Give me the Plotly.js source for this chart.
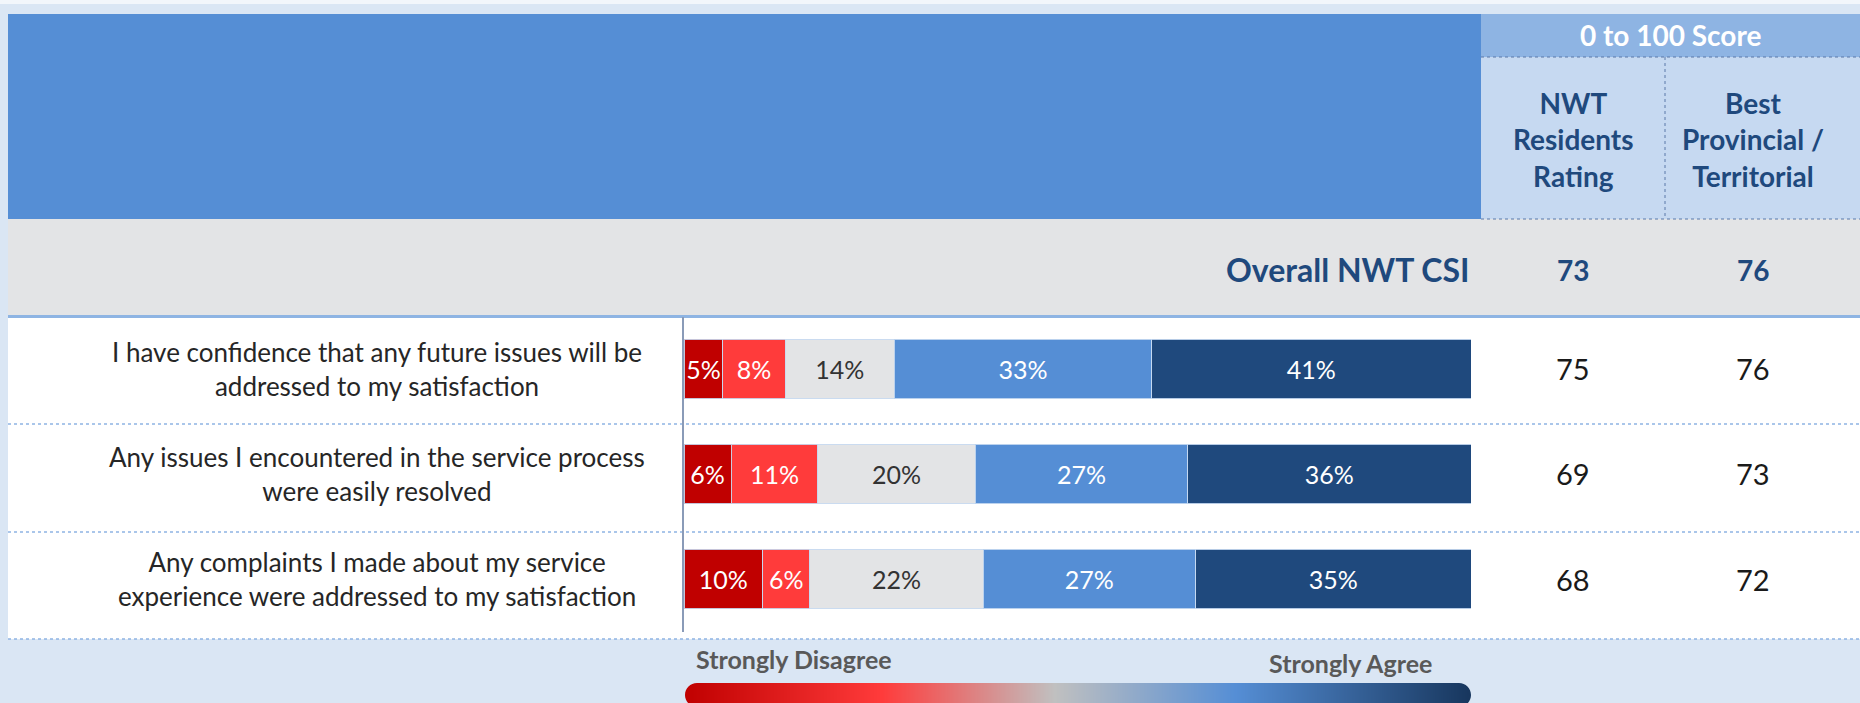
<!DOCTYPE html>
<html>
<head>
<meta charset="utf-8">
<script src="https://cdn.plot.ly/plotly-3.0.1.min.js"></script>
<style>
  html, body { margin: 0; padding: 0; background: #DAE6F4; }
  #chart { width: 1860px; height: 703px; }
</style>
</head>
<body>
<div id="chart"></div>
<script>
// ---------------- DATA ----------------
const categories = [
  "I have confidence that any future issues will be<br>addressed to my satisfaction",
  "Any issues I encountered in the service process<br>were easily resolved",
  "Any complaints I made about my service<br>experience were addressed to my satisfaction"
];
const seriesNames = ["Strongly Disagree", "Disagree", "Neutral", "Agree", "Strongly Agree"];
const stronglyDisagree = [5, 6, 10];
const disagree = [8, 11, 6];
const neutral = [14, 20, 22];
const agree = [33, 27, 27];
const stronglyAgree = [41, 36, 35];
const nwtRating = [75, 69, 68];
const bestProvincial = [76, 73, 72];
const overallLabel = "Overall NWT CSI";
const overallNwt = 73;
const overallBest = 76;
const scoreTitle = "0 to 100 Score";
const columnHeaders = ["NWT<br>Residents<br>Rating", "Best<br>Provincial /<br>Territorial"];
const legendLeft = "Strongly Disagree";
const legendRight = "Strongly Agree";

// ---------------- STYLE / GEOMETRY ----------------
const W = 1860, H = 703;
const FONT = "Lato, 'Open Sans', sans-serif";
const px = v => v / W;
const py = v => 1 - v / H;

const seriesValues = [stronglyDisagree, disagree, neutral, agree, stronglyAgree];
const seriesColors = ["#C00000", "#FF3B3B", "#E3E4E6", "#558ED5", "#1F497D"];
const textColors = ["#FFFFFF", "#FFFFFF", "#333333", "#FFFFFF", "#FFFFFF"];

const traces = seriesValues.map((vals, i) => ({
  type: "bar",
  orientation: "h",
  name: seriesNames[i],
  y: categories,
  x: vals,
  text: vals.map(v => v + "%"),
  textposition: "inside",
  insidetextanchor: "middle",
  textangle: 0,
  constraintext: "none",
  textfont: { family: FONT, size: 25, color: textColors[i] },
  marker: { color: seriesColors[i], line: { color: "rgba(198,217,241,0.9)", width: 1 } },
  hoverinfo: "skip",
  xaxis: "x",
  yaxis: "y"
}));

// gradient legend bar
traces.push({
  type: "heatmap",
  x: [0, 786],
  y: [-4, 20],
  z: [[0, 1], [0, 1]],
  zsmooth: "best",
  colorscale: [[0, "#C00000"], [0.25, "#FF3B3B"], [0.47, "#C0C0C0"], [0.70, "#558ED5"], [1, "#17365D"]],
  showscale: false,
  hoverinfo: "skip",
  xaxis: "x2",
  yaxis: "y2"
});

const rect = (x0, y0, x1, y1, color) => ({
  type: "rect", xref: "paper", yref: "paper", layer: "below",
  x0: px(x0), x1: px(x1), y0: py(y1), y1: py(y0),
  fillcolor: color, line: { width: 0 }
});
const hline = (x0, x1, y, color, width) => ({
  type: "line", xref: "paper", yref: "paper", layer: "below",
  x0: px(x0), x1: px(x1), y0: py(y), y1: py(y),
  line: { color: color, width: width, dash: "dot" }
});
const vline = (x, y0, y1, color, width) => ({
  type: "line", xref: "paper", yref: "paper", layer: "below",
  x0: px(x), x1: px(x), y0: py(y0), y1: py(y1),
  line: { color: color, width: width, dash: "dot" }
});

const BG = "#DAE6F4";
const shapes = [
  rect(0, 0, 1860, 4, "#F2F6FB"),
  rect(8, 14, 1481, 219, "#558ED5"),
  rect(1481, 14, 1860, 57, "#8EB4E3"),
  rect(1481, 57, 1860, 219, "#C6D9F1"),
  rect(8, 219, 1860, 315, "#E3E4E6"),
  rect(8, 315, 1860, 318, "#8EB4E3"),
  rect(8, 318, 1860, 639, "#FFFFFF"),
  hline(1481, 1860, 57, "#5A78A8", 1),
  vline(1665, 57, 219, "#5A78A8", 1),
  hline(1481, 1860, 219, "#5A78A8", 1),
  hline(8, 1860, 424, "#8EB4E3", 1.5),
  hline(8, 1860, 532, "#8EB4E3", 1.5),
  hline(8, 1860, 639, "#8EB4E3", 1.5),
  // rounded ends of gradient bar
  { type: "path", xref: "x2", yref: "y2", layer: "above", fillcolor: BG, line: { width: 0 },
    path: "M -2 22 L 12 22 L 12 20 C 5.37 20 0 14.63 0 8 C 0 1.37 5.37 -4 12 -4 L 12 -6 L -2 -6 Z" },
  { type: "path", xref: "x2", yref: "y2", layer: "above", fillcolor: BG, line: { width: 0 },
    path: "M 788 22 L 774 22 L 774 20 C 780.63 20 786 14.63 786 8 C 786 1.37 780.63 -4 774 -4 L 774 -6 L 788 -6 Z" }
];

const annotations = [];
const ann = (o) => annotations.push(Object.assign({ showarrow: false, xref: "paper", yref: "paper" }, o));

ann({ x: px(1670), y: py(35), text: scoreTitle, xanchor: "center", yanchor: "middle",
      font: { family: FONT, size: 28, color: "#FFFFFF", weight: 700 } });
ann({ x: px(1573), y: py(140), text: columnHeaders[0], xanchor: "center", yanchor: "middle", align: "center",
      font: { family: FONT, size: 28, color: "#1F497D", weight: 700 } });
ann({ x: px(1753), y: py(140), text: columnHeaders[1], xanchor: "center", yanchor: "middle", align: "center",
      font: { family: FONT, size: 28, color: "#1F497D", weight: 700 } });
ann({ x: px(1471), y: py(270), text: overallLabel, xanchor: "right", yanchor: "middle",
      font: { family: FONT, size: 32, color: "#1F497D", weight: 700 } });
ann({ x: px(1573), y: py(270), text: String(overallNwt), xanchor: "center", yanchor: "middle",
      font: { family: FONT, size: 28, color: "#1F497D", weight: 700 } });
ann({ x: px(1753), y: py(270), text: String(overallBest), xanchor: "center", yanchor: "middle",
      font: { family: FONT, size: 28, color: "#1F497D", weight: 700 } });

categories.forEach((c, i) => {
  ann({ x: px(377), xref: "paper", y: c, yref: "y", text: c, xanchor: "center", yanchor: "middle", align: "center",
        font: { family: FONT, size: 26, color: "#262626" } });
  ann({ x: px(1573), y: c, yref: "y", text: String(nwtRating[i]), xanchor: "center", yanchor: "middle",
        font: { family: FONT, size: 29, color: "#1A1A1A" } });
  ann({ x: px(1753), y: c, yref: "y", text: String(bestProvincial[i]), xanchor: "center", yanchor: "middle",
        font: { family: FONT, size: 29, color: "#1A1A1A" } });
});

ann({ x: px(694), y: py(659), text: legendLeft, xanchor: "left", yanchor: "middle",
      font: { family: FONT, size: 25, color: "#595959", weight: 700 } });
ann({ x: px(1434), y: py(663), text: legendRight, xanchor: "right", yanchor: "middle",
      font: { family: FONT, size: 25, color: "#595959", weight: 700 } });

const layout = {
  width: W, height: H,
  margin: { l: 0, r: 0, t: 0, b: 0, pad: 0 },
  paper_bgcolor: BG,
  plot_bgcolor: "rgba(0,0,0,0)",
  showlegend: false,
  barmode: "stack",
  barnorm: "percent",
  bargap: 0.43,
  uniformtext: { mode: "show", minsize: 25 },
  xaxis: { domain: [px(684), px(1471)], range: [0, 100], visible: false, fixedrange: true },
  yaxis: { domain: [py(631.5), py(316.5)], range: [2.5, -0.5], type: "category",
           showline: true, linecolor: "#8A9BB8", linewidth: 2, showticklabels: false,
           showgrid: false, zeroline: false, ticks: "", fixedrange: true },
  xaxis2: { domain: [px(685), px(1471)], range: [0, 786], visible: false, anchor: "y2", fixedrange: true },
  yaxis2: { domain: [0, 20 / H], range: [0, 20], visible: false, anchor: "x2", fixedrange: true },
  shapes: shapes,
  annotations: annotations,
  font: { family: FONT }
};

Plotly.newPlot("chart", traces, layout, { displayModeBar: false, staticPlot: true });
</script>
</body>
</html>
